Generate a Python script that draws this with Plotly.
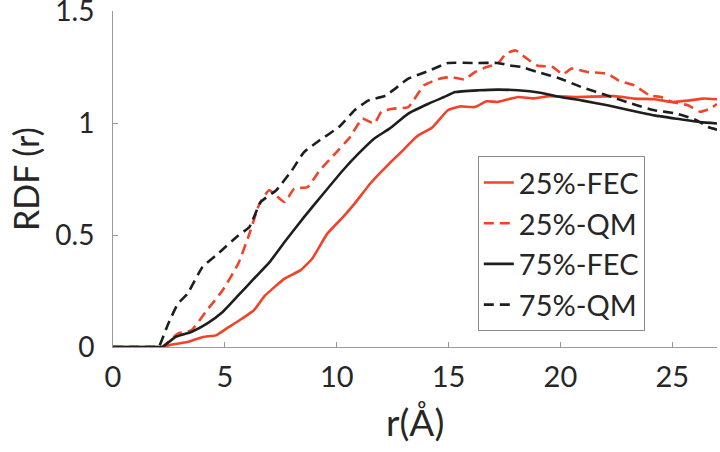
import plotly.graph_objects as go

# ---- data ----
r_fec25 = [0, 1, 2, 2.3, 2.47, 3.33, 4.03, 4.6, 5.07, 5.76, 6.3, 6.8, 7.67, 8.37, 8.9, 9.58, 10.28, 10.8,
           11.5, 12.36, 12.88, 13.58, 14.27, 14.97, 15.5, 16.18, 16.7, 17.2, 18.1, 18.8, 19.5, 20.7,
           22.4, 23.3, 24.2, 25.0, 25.7, 26.4, 27.0]
g_fec25 = [0, 0, 0, 0, 0.007, 0.022, 0.045, 0.052, 0.082, 0.126, 0.164, 0.23, 0.305, 0.342, 0.394, 0.506,
           0.58, 0.64, 0.73, 0.82, 0.87, 0.94, 0.98, 1.057, 1.074, 1.071, 1.097, 1.094, 1.116, 1.11, 1.12,
           1.116, 1.12, 1.109, 1.106, 1.094, 1.10, 1.109, 1.106]

r_qm25 = [0, 1, 2, 2.2, 2.9, 3.5, 4.2, 4.9, 5.6, 6.1, 6.55, 6.98, 7.67, 8.1, 8.7, 9.24, 9.93, 10.6, 11.15,
          11.67, 12.0, 12.5, 13.2, 13.9, 14.6, 15.1, 15.7, 16.2, 16.7, 17.2, 17.57, 18.0, 18.4, 18.96,
          19.65, 20.1, 20.5, 21.2, 22.1, 22.6, 23.3, 24.0, 24.5, 25.0, 25.7, 26.25, 26.7, 27.0]
g_qm25 = [0, 0, 0, 0, 0.06, 0.074, 0.164, 0.253, 0.372, 0.506, 0.64, 0.70, 0.647, 0.707, 0.714, 0.789,
          0.863, 0.9375, 1.02, 0.997, 1.05, 1.064, 1.071, 1.168, 1.198, 1.205, 1.195, 1.228, 1.25, 1.265,
          1.31, 1.324, 1.295, 1.257, 1.25, 1.217, 1.243, 1.228, 1.22, 1.19, 1.168, 1.123, 1.116, 1.094,
          1.079, 1.05, 1.064, 1.085]

r_fec75 = [0, 1, 2, 2.2, 2.8, 3.5, 4.2, 4.9, 5.6, 6.3, 7.0, 7.67, 8.54, 9.4, 10.28, 10.97, 11.67, 12.36,
           13.2, 14.1, 14.8, 15.3, 16.35, 17.2, 18.1, 19.1, 20.0, 21.0, 22.1, 23.1, 24.2, 25.2, 26.25, 27.0]
g_fec75 = [0, 0, 0, 0, 0.045, 0.067, 0.104, 0.156, 0.23, 0.305, 0.379, 0.469, 0.58, 0.684, 0.789, 0.863,
           0.93, 0.975, 1.042, 1.086, 1.116, 1.138, 1.146, 1.149, 1.146, 1.135, 1.116, 1.10, 1.079, 1.057,
           1.034, 1.019, 1.004, 0.998]

r_qm75 = [0, 1, 2, 2.05, 2.47, 2.9, 3.33, 4.0, 4.7, 5.6, 6.1, 6.6, 7.3, 8.0, 8.54, 9.24, 10.1, 10.8, 11.4,
          12.2, 13.2, 14.1, 14.97, 16.2, 17.2, 17.74, 18.26, 18.96, 20.0, 21.0, 22.1, 23.1, 24.2, 25.2,
          26.1, 26.6, 27.0]
g_qm75 = [0, 0, 0, 0, 0.104, 0.193, 0.238, 0.357, 0.417, 0.498, 0.536, 0.647, 0.70, 0.789, 0.87, 0.923,
          0.982, 1.057, 1.10, 1.123, 1.198, 1.232, 1.268, 1.268, 1.268, 1.257, 1.25, 1.228, 1.198, 1.158,
          1.123, 1.089, 1.057, 1.042, 1.012, 0.982, 0.97]

names = ["25%-FEC", "25%-QM", "75%-FEC", "75%-QM"]
x_ticks = [0, 5, 10, 15, 20, 25]
y_ticks = [0, 0.5, 1, 1.5]
y_tick_text = ["0", "0.5", "1", "1.5"]
x_title = "r(Å)"
y_title = "RDF (r)"

RED = "#F0432A"
BLACK = "#1E1E1E"
DASH = "10px,6px"
TEXT = "#262626"
AXIS = "#9a9a9a"

fig = go.Figure()
series = [
    (r_fec25, g_fec25, names[0], RED, "solid"),
    (r_qm25, g_qm25, names[1], RED, DASH),
    (r_fec75, g_fec75, names[2], BLACK, "solid"),
    (r_qm75, g_qm75, names[3], BLACK, DASH),
]
for xs, ys, nm, col, dash in series:
    fig.add_trace(go.Scatter(x=xs, y=ys, name=nm, mode="lines", cliponaxis=True,
                             line=dict(color=col, width=2.6, dash=dash, shape="spline", smoothing=0.4)))

fig.update_layout(
    width=720, height=452,
    margin=dict(l=113, r=3, t=11, b=105, autoexpand=False),
    paper_bgcolor="white", plot_bgcolor="white",
    font=dict(family="Lato, Open Sans, sans-serif", color=TEXT, size=29),
    showlegend=True,
    legend=dict(x=0.604, y=0.568, xanchor="left", yanchor="top",
                bgcolor="white", bordercolor="#8a8a8a", borderwidth=1,
                font=dict(size=29, color=TEXT), tracegroupgap=0),
    xaxis=dict(range=[0, 27], tickvals=x_ticks, ticks="inside", ticklen=5,
               tickcolor=AXIS, showline=True, linecolor=AXIS, linewidth=1,
               showgrid=False, zeroline=False, tickfont=dict(size=29, color=TEXT),
               automargin=False, ticklabeloverflow="allow", ticklabelstandoff=4),
    yaxis=dict(range=[0, 1.5], tickvals=y_ticks, ticktext=y_tick_text, ticks="inside", ticklen=5,
               tickcolor=AXIS, showline=True, linecolor=AXIS, linewidth=1,
               showgrid=False, zeroline=False, tickfont=dict(size=28, color=TEXT),
               automargin=False, ticklabeloverflow="allow", ticklabelstandoff=12),
    annotations=[
        dict(text=x_title, xref="paper", yref="paper", x=0.5, y=0, xanchor="center",
             yanchor="middle", yshift=-74, showarrow=False, font=dict(size=37, color=TEXT)),
        dict(text=y_title, xref="paper", yref="paper", x=0, y=0.5, xanchor="center",
             yanchor="middle", xshift=-88, textangle=-90, showarrow=False,
             font=dict(size=34, color=TEXT)),
    ],
)

fig.write_html("out.html", config={"displayModeBar": False},
               post_script="document.body.style.margin='0';document.body.style.overflow='hidden';")
